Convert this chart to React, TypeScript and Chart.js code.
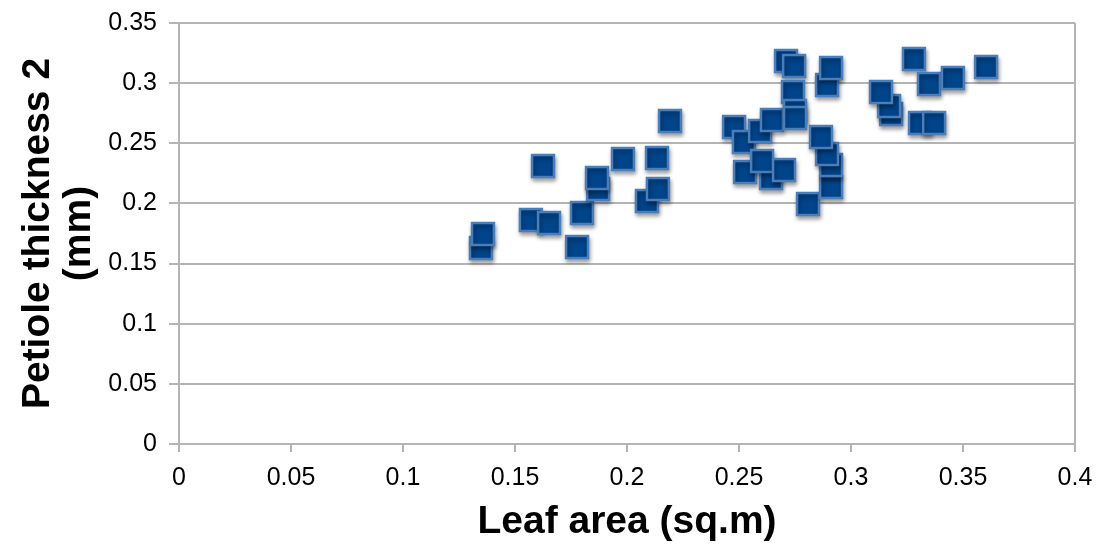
import React, { useEffect, useRef } from "react";
import { Chart, registerables } from "chart.js";

Chart.register(...registerables);

// Leaf area (sq.m)
const leafArea: number[] = [
  0.1348, 0.1357, 0.1571, 0.1652, 0.1625, 0.1777, 0.1799, 0.1871, 0.1866, 0.1982,
  0.2089, 0.2138, 0.2134, 0.2192, 0.2478, 0.2527, 0.2522, 0.2594, 0.2643, 0.2603,
  0.2701, 0.2647, 0.2710, 0.2746, 0.2741, 0.2750, 0.2750, 0.2808, 0.2911, 0.2911,
  0.2893, 0.2866, 0.2893, 0.2911, 0.3179, 0.3170, 0.3134, 0.3281, 0.3348, 0.3308,
  0.3371, 0.3455, 0.3603,
];
// Petiole thickness 2 (mm)
const petioleThickness: number[] = [
  0.1629, 0.1746, 0.1862, 0.1837, 0.2311, 0.1638, 0.1920, 0.2120, 0.2211, 0.2369,
  0.2020, 0.2120, 0.2378, 0.2685, 0.2635, 0.2261, 0.2511, 0.2602, 0.2211, 0.2353,
  0.2278, 0.2694, 0.3184, 0.3142, 0.2926, 0.2768, 0.2710, 0.1995, 0.2137, 0.2319,
  0.2411, 0.2552, 0.2985, 0.3126, 0.2743, 0.2810, 0.2926, 0.3201, 0.2993, 0.2669,
  0.2669, 0.3043, 0.3134,
];

const xTickLabels: string[] = ["0", "0.05", "0.1", "0.15", "0.2", "0.25", "0.3", "0.35", "0.4"];
const yTickLabels: string[] = ["0", "0.05", "0.1", "0.15", "0.2", "0.25", "0.3", "0.35"];

const FONT = "'Liberation Sans', Arial, Helvetica, sans-serif";
const GRID = "#b4b4b4";

const shadowPlugin = {
  id: "markerShadow",
  beforeDatasetsDraw(chart: any) {
    const c = chart.ctx;
    c.save();
    c.shadowColor = "rgba(0,0,0,0.35)";
    c.shadowBlur = 4;
    c.shadowOffsetX = 1;
    c.shadowOffsetY = 3;
  },
  afterDatasetsDraw(chart: any) {
    chart.ctx.restore();
  },
};

export default function App() {
  const ref = useRef<HTMLCanvasElement | null>(null);

  useEffect(() => {
    document.body.style.margin = "0";
    if (!ref.current) return;
    const points = leafArea.map((x, i) => ({ x, y: petioleThickness[i] }));
    const chart = new Chart(ref.current, {
      type: "scatter",
      data: {
        datasets: [
          {
            label: "Petiole thickness 2",
            data: points,
            pointStyle: "rect",
            pointRadius: 15.5,
            pointHoverRadius: 15.5,
            backgroundColor: "#00448a",
            borderColor: "#4a7ebb",
            borderWidth: 2.5,
          },
        ],
      },
      options: {
        animation: false,
        responsive: false,
        layout: { padding: { left: 0, top: 23, right: 25, bottom: 0 } },
        plugins: {
          legend: { display: false },
          tooltip: { enabled: false },
        },
        scales: {
          x: {
            type: "linear",
            min: 0,
            max: 0.4,
            afterFit: (scale: any) => {
              scale.height = 103;
              scale.paddingLeft = 0;
              scale.paddingRight = 0;
            },
            ticks: {
              stepSize: 0.05,
              padding: 11,
              color: "#000",
              font: { family: FONT, size: 25 },
              maxRotation: 0,
              autoSkip: false,
              callback: (v: any) => xTickLabels[Math.round(Number(v) / 0.05)] ?? "",
            },
            grid: {
              drawOnChartArea: true,
              color: (ctx: any) =>
                ctx.tick && Math.abs(ctx.tick.value - 0.4) < 1e-9 ? GRID : "rgba(0,0,0,0)",
              tickColor: GRID,
              tickLength: 8,
              lineWidth: 2,
            },
            border: { display: true, color: GRID, width: 2 },
            title: {
              display: true,
              text: "Leaf area (sq.m)",
              color: "#000",
              font: { family: FONT, size: 39, weight: "bold", lineHeight: 1 },
              padding: { top: 0, bottom: 5 },
            },
          },
          y: {
            type: "linear",
            min: 0,
            max: 0.35,
            afterFit: (scale: any) => {
              scale.width = 179;
              scale.paddingTop = 0;
              scale.paddingBottom = 0;
            },
            ticks: {
              stepSize: 0.05,
              padding: 12,
              color: "#000",
              font: { family: FONT, size: 25 },
              callback: (v: any) => yTickLabels[Math.round(Number(v) / 0.05)] ?? "",
            },
            grid: {
              color: GRID,
              tickColor: GRID,
              tickLength: 10,
              lineWidth: 2,
            },
            border: { display: true, color: GRID, width: 2 },
            title: {
              display: true,
              text: ["Petiole thickness 2", "(mm)"],
              color: "#000",
              font: { family: FONT, size: 39, weight: "bold", lineHeight: 1.05 },
              padding: { top: 18, bottom: 0 },
            },
          },
        },
      },
      plugins: [shadowPlugin],
    });
    return () => chart.destroy();
  }, []);

  return (
    <div style={{ width: 1100, height: 547, background: "#fff" }}>
      <canvas ref={ref} width={1100} height={547} />
    </div>
  );
}
